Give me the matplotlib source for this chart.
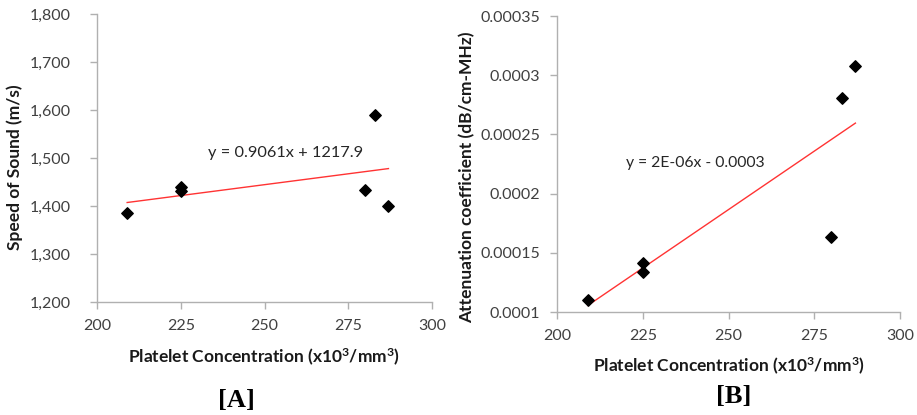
import matplotlib
matplotlib.use("Agg")
import matplotlib.pyplot as plt
import numpy as np

# Data
conc = [209, 225, 225, 280, 283, 287]
speed = [1385, 1440, 1432, 1434, 1590, 1400]
atten = [0.000110, 0.000141, 0.000134, 0.000163, 0.000281, 0.000308]

fitA = (0.9061, 1217.9)
fitB = (1.974e-6, -0.000307)
eqA = "y = 0.9061x + 1217.9"
eqB = "y = 2E-06x - 0.0003"

xticks = [200, 225, 250, 275, 300]
yticksA = [1200, 1300, 1400, 1500, 1600, 1700, 1800]
yticklabelsA = ["1,200", "1,300", "1,400", "1,500", "1,600", "1,700", "1,800"]
yticksB = [0.0001, 0.00015, 0.0002, 0.00025, 0.0003, 0.00035]
yticklabelsB = ["0.0001", "0.00015", "0.0002", "0.00025", "0.0003", "0.00035"]

xlabel = "Platelet Concentration (x10$^3$/mm$^3$)"
ylabelA = "Speed of Sound (m/s)"
ylabelB = "Attenuation coefficient (dB/cm-MHz)"

plt.rcParams['font.family'] = ['Lato', 'DejaVu Sans']
plt.rcParams['mathtext.fontset'] = 'custom'
plt.rcParams['mathtext.rm'] = 'Lato:bold'
plt.rcParams['mathtext.it'] = 'Lato:bold'
plt.rcParams['mathtext.bf'] = 'Lato:bold'

fig = plt.figure(figsize=(9.17, 4.15), dpi=100)
W, H = 917, 415

def make_ax(l, r, t, b):
    return fig.add_axes([l / W, 1 - b / H, (r - l) / W, (b - t) / H])

axA = make_ax(97, 432, 14, 302)
axB = make_ax(557, 900, 16, 312)

gray = '#b0b0b0'
for ax in (axA, axB):
    for s in ('top', 'right'):
        ax.spines[s].set_visible(False)
    for s in ('left', 'bottom'):
        ax.spines[s].set_color(gray)
        ax.spines[s].set_linewidth(1.0)
    ax.tick_params(direction='out', color=gray, length=5, width=1,
                   labelsize=11.5, labelcolor='#404040')
    ax.tick_params(axis='x', pad=7)
    ax.set_xlim(200, 300)
    ax.set_xticks(xticks)
    ax.set_xticklabels([str(v) for v in xticks])

axA.tick_params(axis='y', pad=14)
axB.tick_params(axis='y', pad=7)

# Panel A
axA.set_ylim(1200, 1800)
axA.set_yticks(yticksA)
axA.set_yticklabels(yticklabelsA)
axA.scatter(conc, speed, marker='D', s=34, color='black', zorder=3)
xs = np.array([min(conc), max(conc)])
axA.plot(xs, fitA[0] * xs + fitA[1], color='#ff3333', lw=1.0, zorder=2)
axA.text(233, 1510, eqA, fontsize=11.8, color='#262626', va='center', ha='left')

# Panel B
axB.set_ylim(0.0001, 0.00035)
axB.set_yticks(yticksB)
axB.set_yticklabels(yticklabelsB)
axB.scatter(conc, atten, marker='D', s=34, color='black', zorder=3)
axB.plot(xs, fitB[0] * xs + fitB[1], color='#ff3333', lw=1.0, zorder=2)
axB.text(220, 0.000226, eqB, fontsize=11.3, color='#262626', va='center', ha='left')

# Axis labels placed explicitly
fig.text(264 / W, 1 - 357 / H, xlabel, fontsize=12.5, fontweight='bold',
         ha='center', va='center', color='#1a1a1a')
fig.text(729 / W, 1 - 366 / H, xlabel, fontsize=12.5, fontweight='bold',
         ha='center', va='center', color='#1a1a1a')
fig.text(15 / W, 1 - 167 / H, ylabelA, fontsize=12.5, fontweight='bold',
         ha='center', va='center', rotation=90, color='#1a1a1a')
fig.text(467 / W, 1 - 177 / H, ylabelB, fontsize=12.5, fontweight='bold',
         ha='center', va='center', rotation=90, color='#1a1a1a')

fig.text(236 / W, 1 - 400 / H, "[A]", fontsize=19, fontweight='bold',
         family='Liberation Serif', ha='center', va='center')
fig.text(734 / W, 1 - 396 / H, "[B]", fontsize=19, fontweight='bold',
         family='Liberation Serif', ha='center', va='center')

fig.savefig("out.png", dpi=100)
